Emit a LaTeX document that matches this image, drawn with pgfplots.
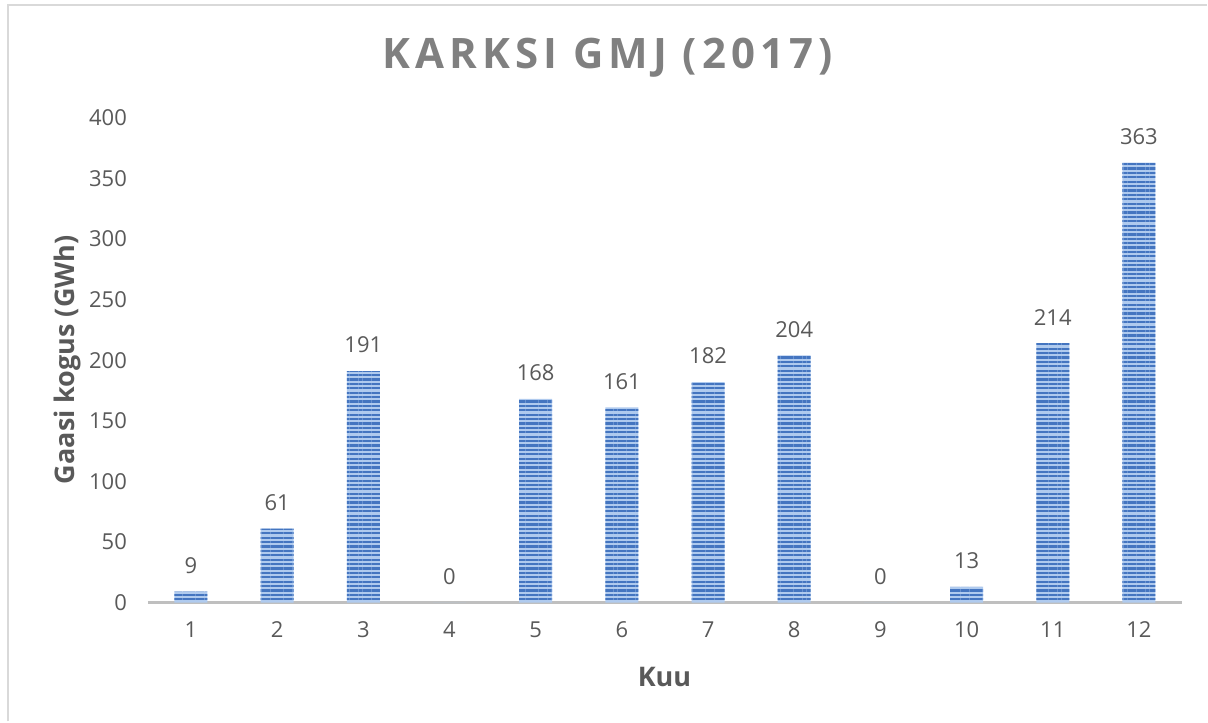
\documentclass[border=0pt]{standalone}
\usepackage{fontspec}
\setmainfont{Open Sans}
\newfontfamily\titlefont[LetterSpace=12]{Open Sans}
\usepackage{pgfplots}
\pgfplotsset{compat=1.18}
\usetikzlibrary{patterns.meta}
\definecolor{barlight}{RGB}{175,202,238}
\definecolor{bardark}{RGB}{68,117,192}
\definecolor{gridc}{RGB}{217,217,217}
\definecolor{axisc}{RGB}{191,191,191}
\definecolor{textc}{RGB}{89,89,89}
\definecolor{titlec}{RGB}{128,128,128}
\begin{document}
\begin{tikzpicture}
\path[draw=gridc, line width=1pt] (4pt,0pt) -- (4pt,358.5pt) -- (604pt,358.5pt);
\path (0,0) rectangle (604pt,361pt);
\begin{axis}[
  at={(74pt,59.5pt)}, anchor=south west,
  scale only axis, width=517.5pt, height=242.5pt,
  xmin=0.5, xmax=12.5, ymin=0, ymax=400,
  xtick={1,...,12}, ytick={0,50,...,400}, yticklabels={},
  axis y line=none, axis x line*=bottom,
  axis line style={draw=axisc, line width=1.6pt, -},
  ymajorgrids, grid style={gridc, line width=0.6pt},
  major tick length=0pt,
  tick label style={font=\fontsize{11}{13}\selectfont, text=textc},
  /pgf/number format/assume math mode=true,
  xticklabel style={yshift=-6pt},
  clip=false,
]
\pgfplotsinvokeforeach{0,50,...,400}{\node[anchor=east, font=\fontsize{11}{13}\selectfont, text=textc] at (axis cs:0.5,#1) [xshift=-7pt] {#1};}
\addplot[ybar, bar width=16.5pt, fill=barlight, draw=none,
  postaction={pattern={Lines[angle=0,distance=2.2pt,line width=1.1pt]}, pattern color=bardark},
  nodes near coords, every node near coord/.append style={font=\fontsize{11}{13}\selectfont, text=textc, yshift=5.5pt},
  /pgf/number format/assume math mode=true]
coordinates {(1,9) (2,61) (3,191) (4,0) (5,168) (6,161) (7,182) (8,204) (9,0) (10,13) (11,214) (12,363)};
\end{axis}
\node[font=\titlefont\bfseries\fontsize{21}{25}\selectfont, text=titlec] at (304pt,332pt) {KARKSI GMJ (2017)};
\node[font=\bfseries\fontsize{13.5}{16}\selectfont, text=textc] at (332.5pt,22pt) {Kuu};
\node[font=\bfseries\fontsize{13.5}{16}\selectfont, text=textc, rotate=90] at (34pt,181pt) {Gaasi kogus (GWh)};
\end{tikzpicture}
\end{document}
